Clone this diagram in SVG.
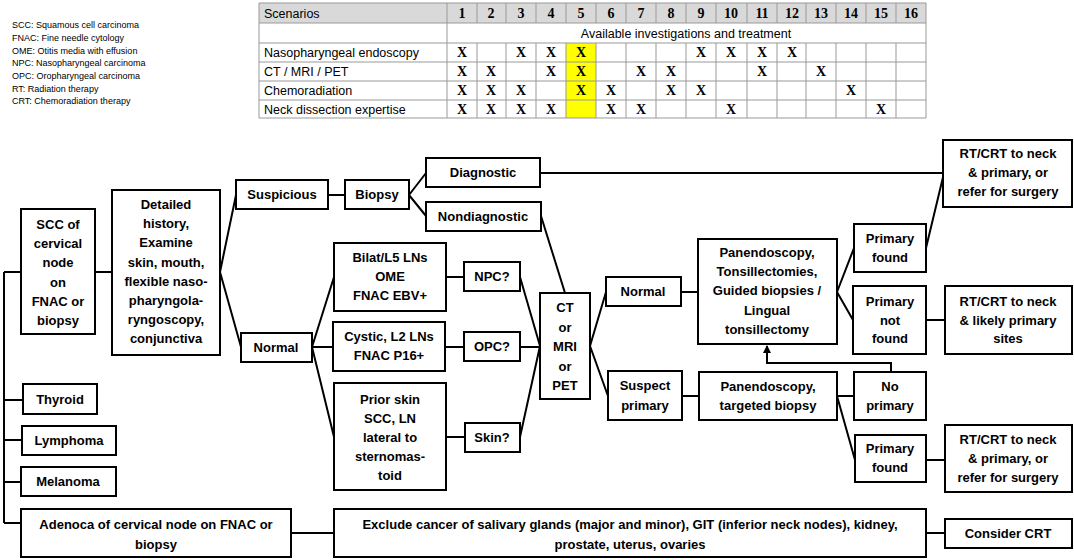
<svg xmlns="http://www.w3.org/2000/svg" width="1074" height="560" viewBox="0 0 1074 560">
<style>
.b{fill:#fff;stroke:#000;stroke-width:2}
.t{font-family:"Liberation Sans",Arial,sans-serif;font-weight:bold;font-size:13px;text-anchor:middle;fill:#000}
.l{font-family:"Liberation Sans",Arial,sans-serif;font-size:9px;fill:#000}
.g{fill:none;stroke:#999;stroke-width:1}
.tl{font-family:"Liberation Sans",Arial,sans-serif;font-size:12.5px;fill:#000}
.n{font-family:"Liberation Serif","Times New Roman",serif;font-weight:bold;font-size:14px;text-anchor:middle;fill:#000}
.c{fill:none;stroke:#000;stroke-width:2}
</style>
<defs><marker id="a" markerWidth="8" markerHeight="8" refX="7" refY="4" orient="auto" markerUnits="userSpaceOnUse"><path d="M0,0 L8,4 L0,8Z" fill="#000"/></marker></defs>
<rect width="1074" height="560" fill="#fff"/>
<g id="legend">
<text class="l" x="12" y="28">SCC: Squamous cell carcinoma</text>
<text class="l" x="12" y="41">FNAC: Fine needle cytology</text>
<text class="l" x="12" y="54">OME: Otitis media with effusion</text>
<text class="l" x="12" y="66">NPC: Nasopharyngeal carcinoma</text>
<text class="l" x="12" y="79">OPC: Oropharyngeal carcinoma</text>
<text class="l" x="12" y="92">RT: Radiation therapy</text>
<text class="l" x="12" y="104">CRT: Chemoradiation therapy</text>
</g>
<g id="table">
<rect x="259" y="3" width="667" height="20" fill="#d9d9d9"/>
<rect x="566" y="43" width="30" height="75" fill="#ffff00"/>
<path class="g" d="M259,3H926M259,23H926M259,43H926M259,62H926M259,81H926M259,100H926M259,118H926M259,3V118M926,3V118M447,3V118"/>
<path class="g" d="M477,3V23M506,3V23M536,3V23M566,3V23M596,3V23M626,3V23M656,3V23M686,3V23M716,3V23M747,3V23M777,3V23M806,3V23M836,3V23M866,3V23M896,3V23"/>
<path class="g" d="M477,43V118M506,43V118M536,43V118M566,43V118M596,43V118M626,43V118M656,43V118M686,43V118M716,43V118M747,43V118M777,43V118M806,43V118M836,43V118M866,43V118M896,43V118"/>
<text class="tl" x="264" y="18">Scenarios</text>
<text class="tl" x="264" y="57">Nasopharyngeal endoscopy</text>
<text class="tl" x="264" y="76">CT / MRI / PET</text>
<text class="tl" x="264" y="95">Chemoradiation</text>
<text class="tl" x="264" y="114">Neck dissection expertise</text>
<text class="tl" x="686" y="38" text-anchor="middle">Available investigations and treatment</text>
<g class="n">
<text x="462" y="18">1</text><text x="491" y="18">2</text><text x="521" y="18">3</text><text x="551" y="18">4</text><text x="581" y="18">5</text><text x="611" y="18">6</text><text x="641" y="18">7</text><text x="671" y="18">8</text><text x="701" y="18">9</text><text x="731" y="18">10</text><text x="762" y="18">11</text><text x="792" y="18">12</text><text x="821" y="18">13</text><text x="851" y="18">14</text><text x="881" y="18">15</text><text x="911" y="18">16</text>
<text x="462" y="57">X</text><text x="521" y="57">X</text><text x="551" y="57">X</text><text x="581" y="57">X</text><text x="701" y="57">X</text><text x="731" y="57">X</text><text x="762" y="57">X</text><text x="792" y="57">X</text>
<text x="462" y="76">X</text><text x="491" y="76">X</text><text x="551" y="76">X</text><text x="581" y="76">X</text><text x="641" y="76">X</text><text x="671" y="76">X</text><text x="762" y="76">X</text><text x="821" y="76">X</text>
<text x="462" y="95">X</text><text x="491" y="95">X</text><text x="521" y="95">X</text><text x="581" y="95">X</text><text x="611" y="95">X</text><text x="671" y="95">X</text><text x="701" y="95">X</text><text x="851" y="95">X</text>
<text x="462" y="114">X</text><text x="491" y="114">X</text><text x="521" y="114">X</text><text x="551" y="114">X</text><text x="611" y="114">X</text><text x="641" y="114">X</text><text x="731" y="114">X</text><text x="881" y="114">X</text>
</g>
</g>
<g id="connectors" class="c">
<path d="M4,272V523M4,272H21M4,400H23M4,440H22M4,482H21M4,523H21"/>
<path d="M95,272H112M220,272L236,195M220,272L241,347M328,195H345M409,195L426,173M409,195L426,216"/>
<path d="M312,347L334,277M312,347H333M312,347L334,437M446,277H464M445,347H464M446,437H465"/>
<path d="M520,277L540,346M520,347H540M520,437L540,346M541,216L565,293"/>
<path d="M540,173H944M590,346L606,292M590,346L608,396M681,292H698M682,396H699"/>
<path d="M837,292L854,248M837,292L853,320M926,248L944,173M926,320H945M837,396H854M837,396L855,460M926,460H945"/>
<path d="M891,372V363H767V346" marker-end="url(#a)"/>
<path d="M291,533H334M926,533H945"/>
</g>
<g id="scc"><rect class="b" x="21" y="209" width="74" height="125"/><text class="t" x="58"><tspan x="58" y="229">SCC of</tspan><tspan x="58" y="248">cervical</tspan><tspan x="58" y="267">node</tspan><tspan x="58" y="287">on</tspan><tspan x="58" y="306">FNAC or</tspan><tspan x="58" y="325">biopsy</tspan></text></g>
<g id="detailed"><rect class="b" x="112" y="190" width="108" height="165"/><text class="t"><tspan x="166" y="209">Detailed</tspan><tspan x="166" y="228">history,</tspan><tspan x="166" y="247">Examine</tspan><tspan x="166" y="267">skin, mouth,</tspan><tspan x="166" y="286">flexible naso-</tspan><tspan x="166" y="305">pharyngola-</tspan><tspan x="166" y="324">ryngoscopy,</tspan><tspan x="166" y="343">conjunctiva</tspan></text></g>
<g id="suspicious"><rect class="b" x="236" y="180" width="92" height="29"/><text class="t" x="282" y="199">Suspicious</text></g>
<g id="normal"><rect class="b" x="241" y="333" width="71" height="29"/><text class="t" x="276" y="352">Normal</text></g>
<g id="biopsy"><rect class="b" x="345" y="180" width="64" height="29"/><text class="t" x="377" y="199">Biopsy</text></g>
<g id="diagnostic"><rect class="b" x="426" y="158" width="114" height="29"/><text class="t" x="483" y="177">Diagnostic</text></g>
<g id="nondiagnostic"><rect class="b" x="426" y="202" width="115" height="29"/><text class="t" x="483" y="221">Nondiagnostic</text></g>
<g id="bilat"><rect class="b" x="334" y="243" width="112" height="68"/><text class="t"><tspan x="390" y="262">Bilat/L5 LNs</tspan><tspan x="390" y="281">OME</tspan><tspan x="390" y="300">FNAC EBV+</tspan></text></g>
<g id="npc"><rect class="b" x="464" y="262" width="56" height="29"/><text class="t" x="492" y="281">NPC?</text></g>
<g id="cystic"><rect class="b" x="333" y="322" width="112" height="49"/><text class="t"><tspan x="389" y="341">Cystic, L2 LNs</tspan><tspan x="389" y="360">FNAC P16+</tspan></text></g>
<g id="opc"><rect class="b" x="464" y="332" width="56" height="29"/><text class="t" x="492" y="351">OPC?</text></g>
<g id="prior"><rect class="b" x="334" y="383" width="112" height="107"/><text class="t"><tspan x="390" y="404">Prior skin</tspan><tspan x="390" y="423">SCC, LN</tspan><tspan x="390" y="442">lateral to</tspan><tspan x="390" y="461">sternomas-</tspan><tspan x="390" y="480">toid</tspan></text></g>
<g id="skin"><rect class="b" x="465" y="423" width="55" height="29"/><text class="t" x="492" y="442">Skin?</text></g>
<g id="thyroid"><rect class="b" x="23" y="384" width="74" height="30"/><text class="t" x="60" y="404">Thyroid</text></g>
<g id="lymphoma"><rect class="b" x="22" y="426" width="94" height="29"/><text class="t" x="69" y="445">Lymphoma</text></g>
<g id="melanoma"><rect class="b" x="21" y="467" width="95" height="29"/><text class="t" x="68" y="486">Melanoma</text></g>
<g id="adenoca"><rect class="b" x="21" y="509" width="270" height="48"/><text class="t"><tspan x="156" y="529">Adenoca of cervical node on FNAC or</tspan><tspan x="156" y="549">biopsy</tspan></text></g>
<g id="exclude"><rect class="b" x="334" y="509" width="592" height="48"/><text class="t"><tspan x="630" y="529">Exclude cancer of salivary glands (major and minor), GIT (inferior neck nodes), kidney,</tspan><tspan x="630" y="549">prostate, uterus, ovaries</tspan></text></g>
<g id="consider"><rect class="b" x="945" y="519" width="127" height="29"/><text class="t" x="1008" y="538">Consider CRT</text></g>
<g id="ct"><rect class="b" x="540" y="293" width="50" height="106"/><text class="t"><tspan x="565" y="312">CT</tspan><tspan x="565" y="332">or</tspan><tspan x="565" y="351">MRI</tspan><tspan x="565" y="371">or</tspan><tspan x="565" y="390">PET</tspan></text></g>
<g id="normal2"><rect class="b" x="606" y="277" width="75" height="29"/><text class="t" x="643" y="296">Normal</text></g>
<g id="suspect"><rect class="b" x="608" y="371" width="74" height="49"/><text class="t"><tspan x="645" y="390">Suspect</tspan><tspan x="645" y="410">primary</tspan></text></g>
<g id="pan"><rect class="b" x="698" y="239" width="139" height="105"/><text class="t"><tspan x="767" y="257">Panendoscopy,</tspan><tspan x="767" y="276">Tonsillectomies,</tspan><tspan x="767" y="295">Guided biopsies /</tspan><tspan x="767" y="315">Lingual</tspan><tspan x="767" y="334">tonsillectomy</tspan></text></g>
<g id="pantarget"><rect class="b" x="699" y="372" width="138" height="48"/><text class="t"><tspan x="768" y="391">Panendoscopy,</tspan><tspan x="768" y="410">targeted biopsy</tspan></text></g>
<g id="pf1"><rect class="b" x="854" y="224" width="72" height="48"/><text class="t"><tspan x="890" y="243">Primary</tspan><tspan x="890" y="262">found</tspan></text></g>
<g id="pnf"><rect class="b" x="853" y="286" width="73" height="68"/><text class="t"><tspan x="890" y="306">Primary</tspan><tspan x="890" y="325">not</tspan><tspan x="890" y="343">found</tspan></text></g>
<g id="noprimary"><rect class="b" x="854" y="372" width="72" height="48"/><text class="t"><tspan x="890" y="391">No</tspan><tspan x="890" y="410">primary</tspan></text></g>
<g id="pf2"><rect class="b" x="855" y="435" width="71" height="47"/><text class="t"><tspan x="890" y="453">Primary</tspan><tspan x="890" y="472">found</tspan></text></g>
<g id="rt1"><rect class="b" x="943" y="140" width="129" height="67"/><text class="t"><tspan x="1008" y="158">RT/CRT to neck</tspan><tspan x="1008" y="177">&amp; primary, or</tspan><tspan x="1008" y="196">refer for surgery</tspan></text></g>
<g id="rt2"><rect class="b" x="945" y="286" width="127" height="68"/><text class="t"><tspan x="1008" y="306">RT/CRT to neck</tspan><tspan x="1008" y="325">&amp; likely primary</tspan><tspan x="1008" y="343">sites</tspan></text></g>
<g id="rt3"><rect class="b" x="945" y="425" width="127" height="67"/><text class="t"><tspan x="1008" y="444">RT/CRT to neck</tspan><tspan x="1008" y="463">&amp; primary, or</tspan><tspan x="1008" y="482">refer for surgery</tspan></text></g>
</svg>
